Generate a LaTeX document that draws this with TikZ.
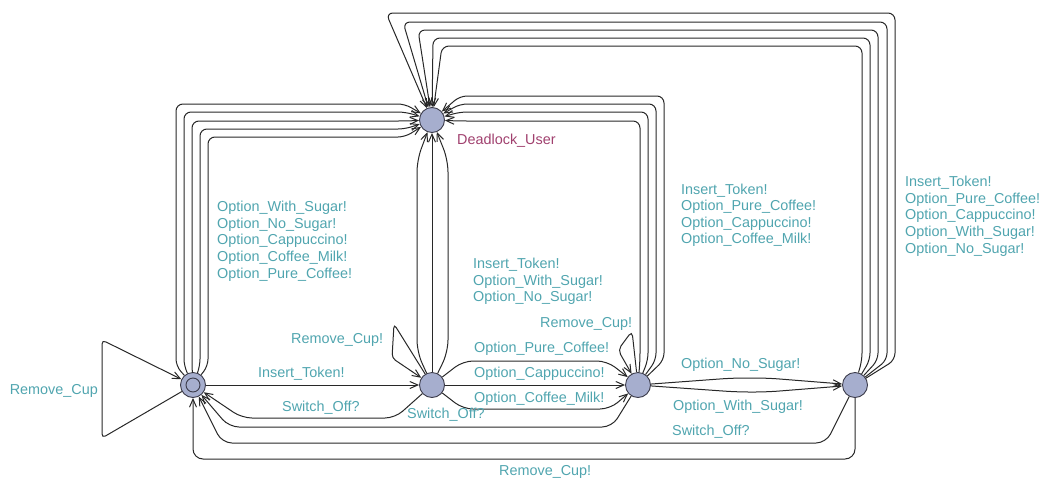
\documentclass[tikz,border=0pt]{standalone}
\usepackage{fontspec}
\setmainfont{Liberation Sans}
\usetikzlibrary{arrows.meta}
\definecolor{nodefill}{RGB}{166,174,206}
\definecolor{nodeedge}{RGB}{60,60,75}
\definecolor{lbl}{RGB}{80,165,175}
\definecolor{locname}{RGB}{160,64,110}
\definecolor{edgecol}{RGB}{40,40,40}
\begin{document}
\begin{tikzpicture}[x=1pt,y=-1pt,
  loc/.style={circle,draw=nodeedge,fill=nodefill,line width=0.9pt,minimum size=25pt,inner sep=0pt},
  edge/.style={draw=edgecol,line width=1pt,rounded corners=7pt,-{Straight Barb[length=8pt,width=7pt]}},
  lab/.style={text=lbl,font=\fontsize{14.4}{16.6}\selectfont,inner sep=0pt},
  slab/.style={lab,anchor=base west},
  mlab/.style={lab,align=left,anchor=north west},
]
\useasboundingbox (0,0) rectangle (1041,477);

% locations
\node[loc] (init) at (193,385) {};
\node[loc] (s2) at (432,385) {};
\node[loc] (s3) at (638,385) {};
\node[loc] (s4) at (855,385) {};
\node[loc] (dl) at (432,120) {};
\draw[draw=nodeedge,line width=0.9pt] (init.center) circle[radius=7pt];
\node[anchor=base west,inner sep=0pt,text=locname,font=\fontsize{14.4}{16.6}\selectfont] (dlname) at (457,144) {Deadlock\_User};

% init -> deadlock
\foreach \x/\y in {176/104,184/112,192/121,200/129,208/137}
  \draw[edge] (init) -- (\x,366) -- (\x,\y) -- (405,\y) -- (dl);
% s2 -> deadlock
\draw[edge] (s2) -- (dl);
\draw[edge,rounded corners=12pt] (s2) -- (417,352) -- (417,160) -- (dl);
\draw[edge,rounded corners=12pt] (s2) -- (448,352) -- (448,160) -- (dl);
% s3 -> deadlock
\foreach \x/\y in {640/121,648/112,656/104,664/96}
  \draw[edge] (s3) -- (\x,360) -- (\x,\y) -- (460,\y) -- (dl);
% s4 -> deadlock
\foreach \x/\y/\c in {862/46/442,870/38/433,878/30/418,887/22/403,895/13/386}
  \draw[edge] (s4) -- (\x,360) -- (\x,\y) -- (\c,\y) -- (dl);

% self loops
\draw[edge,rounded corners=4pt] (init) -- (102,438) -- (102,340) -- (init);
\draw[edge,rounded corners=4pt] (s2) -- (394,324) -- (392,358) -- (s2);
\draw[edge,rounded corners=5pt] (s3) -- (632,331) -- (618,350) -- (s3);

% forward edges
\draw[edge] (init) -- (s2);
\draw[edge] (s2) -- (s3);
\draw[edge,rounded corners=10pt] (s2) -- (463,361) -- (607,361) -- (s3);
\draw[edge,rounded corners=10pt] (s2) -- (463,409) -- (610,409) -- (s3);
\draw[edge,rounded corners=12pt] (s3) -- (733,378) -- (767,378) -- (s4);
\draw[edge,rounded corners=12pt] (s3) -- (737,392) -- (767,392) -- (s4);

% back edges to init
\draw[edge,rounded corners=10pt] (s2) -- (395,418) -- (242,418) -- (init);
\draw[edge,rounded corners=10pt] (s3) -- (612,427) -- (229,427) -- (init);
\draw[edge,rounded corners=10pt] (s4) -- (826,443) -- (222,443) -- (init);
\draw[edge,rounded corners=10pt] (s4) -- (855,459) -- (193,459) -- (init);

% labels
\node[mlab] (lID) at (217,201) {Option\_With\_Sugar!\\Option\_No\_Sugar!\\Option\_Cappuccino!\\Option\_Coffee\_Milk!\\Option\_Pure\_Coffee!};
\node[mlab] (l2D) at (473,258) {Insert\_Token!\\Option\_With\_Sugar!\\Option\_No\_Sugar!};
\node[mlab] (l3D) at (681,183.5) {Insert\_Token!\\Option\_Pure\_Coffee!\\Option\_Cappuccino!\\Option\_Coffee\_Milk!};
\node[mlab] (l4D) at (905,176) {Insert\_Token!\\Option\_Pure\_Coffee!\\Option\_Cappuccino!\\Option\_With\_Sugar!\\Option\_No\_Sugar!};

\node[lab,anchor=base east] (lIloop) at (98,394) {Remove\_Cup};
\node[slab] (lIS2) at (258,377) {Insert\_Token!};
\node[slab] (lS2I) at (282,411) {Switch\_Off?};
\node[slab] (lS2loop) at (291,343) {Remove\_Cup!};
\node[slab] (lS3I) at (407,418) {Switch\_Off?};
\node[slab] (lpure) at (474,352) {Option\_Pure\_Coffee!};
\node[slab] (lcapp) at (474,377) {Option\_Cappuccino!};
\node[slab] (lmilk) at (474,402) {Option\_Coffee\_Milk!};
\node[slab] (lS3loop) at (540,327) {Remove\_Cup!};
\node[slab] (lnos) at (681,368) {Option\_No\_Sugar!};
\node[slab] (lwith) at (673,410) {Option\_With\_Sugar!};
\node[slab] (lS4I) at (672,435) {Switch\_Off?};
\node[slab] (lS4Irc) at (499,475) {Remove\_Cup!};
\end{tikzpicture}
\end{document}
